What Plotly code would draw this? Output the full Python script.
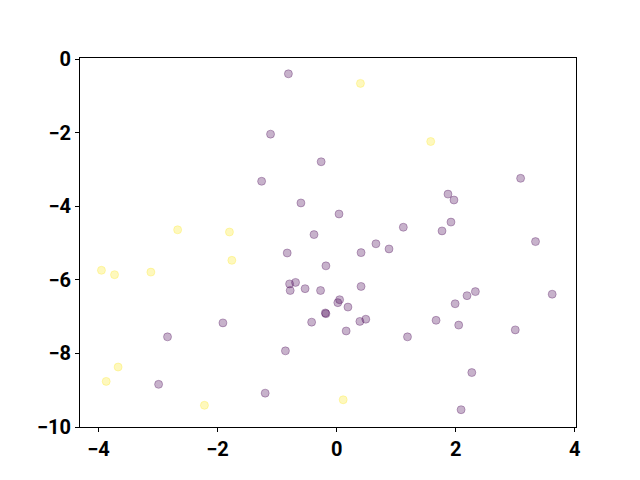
import plotly.graph_objects as go

purple_x = [-0.81, -1.11, -0.26, -1.26, -0.60, -0.38, 3.09, 1.87, 1.97, 0.04, 1.92, 1.12, 1.77, 3.34,
            0.66, 0.88, -0.83, -0.18, -0.79, -0.69, -0.78, -0.53, -0.27, -0.19, -0.18, -0.42, -1.91,
            -2.84, -0.86, -2.99, -1.20, 0.41, 0.41, 3.62, 2.33, 2.19, 1.99, 0.05, 0.02, 0.19, 0.49,
            0.39, 1.67, 2.05, 3.00, 0.16, 1.19, 2.27, 2.09]
purple_y = [-0.40, -2.04, -2.79, -3.32, -3.91, -4.77, -3.24, -3.67, -3.83, -4.21, -4.43, -4.57, -4.67, -4.96,
            -5.02, -5.16, -5.27, -5.62, -6.11, -6.07, -6.29, -6.24, -6.29, -6.90, -6.92, -7.15, -7.17,
            -7.55, -7.93, -8.84, -9.08, -5.26, -6.18, -6.39, -6.32, -6.43, -6.65, -6.54, -6.62, -6.74, -7.07,
            -7.13, -7.10, -7.23, -7.36, -7.39, -7.55, -8.52, -9.53]

yellow_x = [0.40, 1.58, -2.67, -1.80, -1.76, -3.95, -3.73, -3.12, -3.67, -3.87, -2.22, 0.11]
yellow_y = [-0.66, -2.24, -4.64, -4.70, -5.47, -5.74, -5.86, -5.79, -8.37, -8.76, -9.41, -9.26]

x_ticks = [-4, -2, 0, 2, 4]
y_ticks = [-10, -8, -6, -4, -2, 0]

fig = go.Figure()
for xs, ys, rgb in [(purple_x, purple_y, "68,1,84"), (yellow_x, yellow_y, "253,231,37")]:
    fig.add_trace(go.Scatter(
        x=xs, y=ys, mode="markers",
        marker=dict(size=8, color=f"rgba({rgb},0.3)", line=dict(color=f"rgba({rgb},0.3)", width=1)),
        showlegend=False, hoverinfo="skip"))

axis_common = dict(showgrid=False, zeroline=False, showline=True, linecolor="black", linewidth=1,
                   mirror=True, ticks="outside", ticklen=4, tickwidth=1, tickcolor="black",
                   automargin=False,
                   tickfont=dict(family="Roboto", size=20, color="black", weight="bold"))
fig.update_xaxes(range=[-4.31, 4.02], tickvals=x_ticks, **axis_common)
fig.update_yaxes(range=[-10.0, 0.03], tickvals=y_ticks, **axis_common)

fig.update_layout(width=640, height=480, margin=dict(l=72, r=72, t=50, b=61, pad=0),
                  plot_bgcolor="white", paper_bgcolor="white")
fig.write_html("out.html")
